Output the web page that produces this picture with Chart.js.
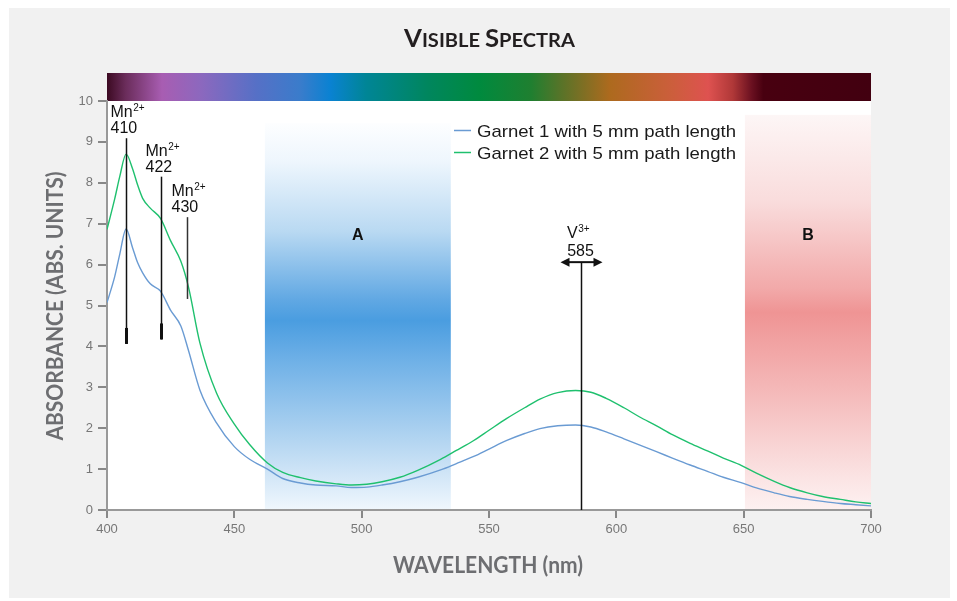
<!DOCTYPE html>
<html><head><meta charset="utf-8">
<script src="https://cdn.jsdelivr.net/npm/chart.js@4.4.1/dist/chart.umd.min.js"></script>
<style>html,body{margin:0;padding:0;background:#fff;overflow:hidden}canvas{display:block}</style>
</head><body>
<canvas id="c" width="957" height="601"></canvas>
<script>
// ---- data ----
const wavelengths = [400,403,405,407.5,410,412,414,417,421,425,429,432,436.5,443,450,456,463,469,476,482,490,496,502,508,515,522,531,537,544,550,557,564,570,577,584,590,596,603,609,616,622,629,636,642,649,655,662,668,675,681,688,694,700];
const garnet1 = [5.07,5.7,6.25,6.87,6.42,6.05,5.80,5.53,5.35,4.88,4.50,3.90,2.93,2.13,1.55,1.24,1.00,0.77,0.66,0.61,0.59,0.55,0.56,0.61,0.69,0.80,0.98,1.13,1.31,1.49,1.70,1.87,1.99,2.06,2.08,2.03,1.91,1.74,1.59,1.42,1.27,1.10,0.94,0.80,0.67,0.54,0.42,0.33,0.26,0.21,0.16,0.13,0.10];
const garnet2 = [6.86,7.6,8.15,8.70,8.35,7.95,7.62,7.38,7.13,6.58,6.08,5.45,4.08,2.86,2.10,1.60,1.15,0.92,0.79,0.71,0.64,0.61,0.63,0.69,0.80,0.97,1.24,1.45,1.70,1.95,2.24,2.50,2.71,2.87,2.92,2.88,2.73,2.50,2.28,2.05,1.84,1.63,1.44,1.27,1.09,0.90,0.70,0.55,0.42,0.33,0.26,0.20,0.16];
const seriesLabels = ['Garnet 1 with 5 mm path length', 'Garnet 2 with 5 mm path length'];
const xRange = [400, 700];
const yRange = [0, 10];
const xStep = 50;
const yStep = 1;
const chartTitle = ['V', 'ISIBLE ', 'S', 'PECTRA'];
const xTitle = 'WAVELENGTH (nm)';
const yTitle = 'ABSORBANCE (ABS. UNITS)';
// Mn2+ peak annotations
const mnPeakPositions = [407.5, 421.2, 431.3];
const mnPeakLabels = ['410', '422', '430'];
const mnLineTop = [9.09, 8.15, 7.16];
const mnLineBottom = [4.06, 4.17, 5.16];
// V3+ peak annotation
const vPeakPosition = 586;
const vPeakLabel = '585';
const vLineTop = 6.06;
// transmission windows
const bandRanges = [[462, 535], [650.5, 700]];
const bandTops = [9.46, 9.66];
const bandLabels = ['A', 'B'];
const bandLabelValue = 6.6;

// ---- helpers ----
function fitText(ctx, text, x, y, w, align) {
  const m = ctx.measureText(text).width;
  const s = w / m;
  ctx.save();
  ctx.translate(x, y);
  ctx.scale(s, 1);
  ctx.textAlign = align;
  ctx.fillText(text, 0, 0);
  ctx.restore();
}
function supText(ctx, base, sup, x, y) {
  ctx.textAlign = 'left';
  ctx.font = '16px "Liberation Sans", Arial, sans-serif';
  ctx.fillText(base, x, y);
  const w = ctx.measureText(base).width;
  ctx.font = '10px "Liberation Sans", Arial, sans-serif';
  ctx.fillText(sup, x + w + 0.5, y - 6);
}

const decor = {
  id: 'decor',
  beforeDraw(chart) {
    const { ctx, chartArea: a, scales: { x, y } } = chart;
    ctx.save();
    ctx.fillStyle = '#ffffff'; ctx.fillRect(0, 0, 957, 601);
    ctx.fillStyle = '#f1f1f1'; ctx.fillRect(9, 8, 941, 590);
    ctx.fillStyle = '#ffffff'; ctx.fillRect(a.left, a.top, a.right - a.left, a.bottom - a.top);
    // spectrum bar
    const sg = ctx.createLinearGradient(a.left, 0, a.right, 0);
    [[0,'#3c0a22'],[0.024,'#6a2c5a'],[0.072,'#a85db2'],[0.123,'#8c68be'],[0.195,'#5670c6'],[0.253,'#3a7ccb'],[0.292,'#0a82d2'],[0.339,'#008596'],[0.419,'#00865e'],[0.488,'#008a3e'],[0.555,'#1f7f30'],[0.596,'#5a7328'],[0.658,'#ad6a1e'],[0.740,'#cc5e3c'],[0.787,'#de5250'],[0.819,'#b03838'],[0.844,'#6a1020'],[0.859,'#480010'],[1,'#420010']].forEach(([f,c]) => sg.addColorStop(f, c));
    ctx.fillStyle = sg;
    ctx.fillRect(a.left, a.top - 28, a.right - a.left, 28);
    // bands
    const stops = [
      [[0,'#fdfeff'],[0.1,'#eef6fd'],[0.28,'#b9d9f2'],[0.46,'#5fa7e3'],[0.51,'#4a9de0'],[0.6,'#6aaee6'],[0.82,'#b3d5f1'],[1,'#f0f7fd']],
      [[0,'#fdf6f6'],[0.22,'#f9dcdc'],[0.44,'#f2a9a9'],[0.5,'#ef9494'],[0.72,'#f5bdbd'],[0.92,'#fbe4e4'],[1,'#fdf1f1']]
    ];
    bandRanges.forEach((r, i) => {
      const x0 = x.getPixelForValue(r[0]), x1 = x.getPixelForValue(r[1]);
      const yt = y.getPixelForValue(bandTops[i]), yb = y.getPixelForValue(0);
      const g = ctx.createLinearGradient(0, yt, 0, yb);
      stops[i].forEach(([f,c]) => g.addColorStop(f, c));
      ctx.fillStyle = g;
      ctx.fillRect(x0, yt, x1 - x0, yb - yt);
      ctx.fillStyle = '#111';
      ctx.font = 'bold 16px "Liberation Sans", Arial, sans-serif';
      ctx.textAlign = 'center';
      ctx.fillText(bandLabels[i], (x0 + x1) / 2, y.getPixelForValue(bandLabelValue));
    });
    // title (small caps)
    const big = 'bold 25px Lato, sans-serif', small = 'bold 19.5px Lato, sans-serif';
    const fonts = [big, small, big, small];
    let tw = 0; const ws = [];
    chartTitle.forEach((t, i) => { ctx.font = fonts[i]; const w = ctx.measureText(t).width; ws.push(w); tw += w; });
    const target = 171, sc = target / tw;
    ctx.save();
    ctx.translate(404, 46.5);
    ctx.scale(sc, 1);
    ctx.fillStyle = '#231f20';
    ctx.textAlign = 'left';
    let cx = 0;
    chartTitle.forEach((t, i) => { ctx.font = fonts[i]; ctx.fillText(t, cx, 0); cx += ws[i]; });
    ctx.restore();
    // axis titles
    ctx.fillStyle = '#6d6e71';
    ctx.font = 'bold 22px Lato, sans-serif';
    fitText(ctx, xTitle, 488, 573, 190, 'center');
    ctx.save();
    ctx.translate(62.5, 306);
    ctx.rotate(-Math.PI / 2);
    fitText(ctx, yTitle, 0, 0, 269, 'center');
    ctx.restore();
    ctx.restore();
  },
  afterDatasetsDraw(chart) {
    const { ctx, scales: { x, y } } = chart;
    ctx.save();
    ctx.fillStyle = '#111';
    mnPeakPositions.forEach((p, i) => {
      const px = Math.round(x.getPixelForValue(p)) + 0.5;
      const yt = y.getPixelForValue(mnLineTop[i]), yb = y.getPixelForValue(mnLineBottom[i]);
      ctx.strokeStyle = i === 2 ? '#333' : '#111';
      ctx.lineWidth = 1.5;
      ctx.beginPath(); ctx.moveTo(px, yt); ctx.lineTo(px, yb); ctx.stroke();
      if (i < 2) {
        ctx.lineWidth = 3;
        ctx.beginPath(); ctx.moveTo(px, yb - 16); ctx.lineTo(px, yb); ctx.stroke();
      }
      ctx.fillStyle = '#111';
      supText(ctx, 'Mn', '2+', px - 16, yt - 21);
      ctx.font = '16px "Liberation Sans", Arial, sans-serif';
      ctx.textAlign = 'left';
      ctx.fillText(mnPeakLabels[i], px - 16, yt - 5);
    });
    // V3+
    const vx = Math.round(x.getPixelForValue(vPeakPosition)) + 0.5;
    const vt = y.getPixelForValue(vLineTop), vb = y.getPixelForValue(0);
    ctx.strokeStyle = '#111'; ctx.lineWidth = 1.5;
    ctx.beginPath(); ctx.moveTo(vx, vt); ctx.lineTo(vx, vb); ctx.stroke();
    ctx.lineWidth = 2;
    ctx.beginPath(); ctx.moveTo(vx - 14, vt); ctx.lineTo(vx + 14, vt); ctx.stroke();
    ctx.beginPath();
    ctx.moveTo(vx - 21, vt); ctx.lineTo(vx - 12, vt - 4.5); ctx.lineTo(vx - 12, vt + 4.5); ctx.closePath();
    ctx.moveTo(vx + 21, vt); ctx.lineTo(vx + 12, vt - 4.5); ctx.lineTo(vx + 12, vt + 4.5); ctx.closePath();
    ctx.fill();
    supText(ctx, 'V', '3+', vx - 14.5, vt - 24);
    ctx.font = '16px "Liberation Sans", Arial, sans-serif';
    ctx.textAlign = 'center';
    ctx.fillText(vPeakLabel, vx - 1, vt - 6);
    // legend
    ctx.fillStyle = '#ffffff';
    ctx.fillRect(451, 117, 293, 50);
    chart.data.datasets.forEach((ds, i) => {
      const ly = 130.5 + i * 22;
      ctx.strokeStyle = ds.borderColor; ctx.lineWidth = 1.5;
      ctx.beginPath(); ctx.moveTo(454, ly); ctx.lineTo(471, ly); ctx.stroke();
      ctx.fillStyle = '#1a1a1a';
      ctx.font = '17px "Liberation Sans", Arial, sans-serif';
      fitText(ctx, ds.label, 477, ly + 6, 259, 'left');
    });
    ctx.restore();
  }
};

const mk = (arr) => wavelengths.map((w, i) => ({ x: w, y: arr[i] }));
new Chart(document.getElementById('c'), {
  type: 'line',
  data: {
    datasets: [
      { label: seriesLabels[0], data: mk(garnet1), borderColor: '#6a9bd3', borderWidth: 1.4, pointRadius: 0, cubicInterpolationMode: 'monotone', fill: false },
      { label: seriesLabels[1], data: mk(garnet2), borderColor: '#1fc06e', borderWidth: 1.4, pointRadius: 0, cubicInterpolationMode: 'monotone', fill: false }
    ]
  },
  options: {
    responsive: false, animation: false, devicePixelRatio: 1,
    layout: { padding: { top: 101, right: 86, left: 0, bottom: 0 } },
    plugins: { legend: { display: false }, title: { display: false }, tooltip: { enabled: false } },
    scales: {
      x: {
        type: 'linear', min: xRange[0], max: xRange[1],
        ticks: { stepSize: xStep, color: '#777', font: { size: 13, family: '"Liberation Sans", Arial, sans-serif' }, padding: 4, maxRotation: 0 },
        grid: { drawOnChartArea: false, drawTicks: true, tickLength: 8, color: '#888', lineWidth: 2 },
        border: { display: true, color: '#999', width: 2 },
        afterFit: s => { s.height = 91; }
      },
      y: {
        type: 'linear', min: yRange[0], max: yRange[1],
        ticks: { stepSize: yStep, color: '#777', font: { size: 13, family: '"Liberation Sans", Arial, sans-serif' }, padding: 5 },
        grid: { drawOnChartArea: false, drawTicks: true, tickLength: 9, color: '#888', lineWidth: 2 },
        border: { display: true, color: '#999', width: 2 },
        afterFit: s => { s.width = 107; }
      }
    }
  },
  plugins: [decor]
});
</script>
</body></html>
